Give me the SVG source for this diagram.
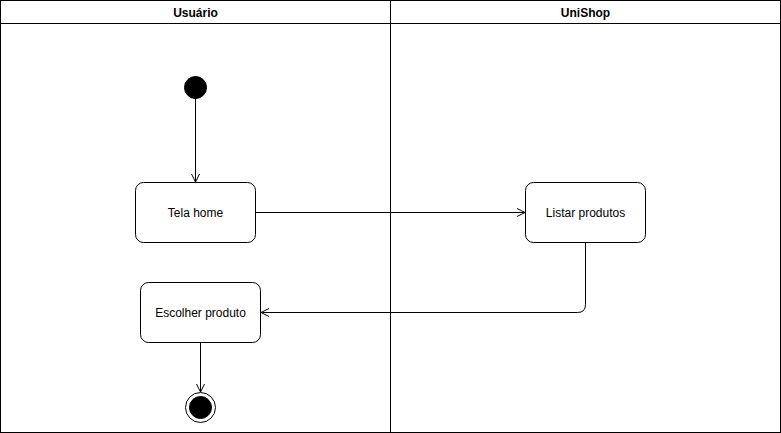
<svg xmlns="http://www.w3.org/2000/svg" width="781" height="433" viewBox="0 0 781 433">
<style>
.lane{fill:#fff;stroke:#000;stroke-width:1}
.node{fill:#fff;stroke:#000;stroke-width:1}
.hdr{font-family:"Liberation Sans",Arial,sans-serif;font-size:12px;font-weight:bold;fill:#000;text-anchor:middle}
.lbl{font-family:"Liberation Sans",Arial,sans-serif;font-size:12px;fill:#000;text-anchor:middle}
.edge{fill:none;stroke:#000;stroke-width:1}
</style>
<defs>
<marker id="open" viewBox="0 0 10 10" refX="9" refY="5" markerWidth="10" markerHeight="10" markerUnits="userSpaceOnUse" orient="auto">
<path d="M1,1 L9,5 L1,9" fill="none" stroke="#000" stroke-width="1"/>
</marker>
</defs>
<rect width="781" height="433" fill="#fff"/>
<g id="lane-usuario">
<rect class="lane" x="0.5" y="0.5" width="390" height="432"/>
<line x1="0.5" y1="23.5" x2="390.5" y2="23.5" stroke="#000"/>
<text class="hdr" x="195.5" y="16.5">Usuário</text>
</g>
<g id="lane-unishop">
<rect class="lane" x="390.5" y="0.5" width="390" height="432"/>
<line x1="390.5" y1="23.5" x2="780.5" y2="23.5" stroke="#000"/>
<text class="hdr" x="585.5" y="16.5">UniShop</text>
</g>
<g id="edges">
<path class="edge" d="M195.5,98 L195.5,182" marker-end="url(#open)"/>
<path class="edge" d="M255.5,212.5 L525,212.5" marker-end="url(#open)"/>
<path class="edge" d="M585.5,242.5 L585.5,304.5 Q585.5,312.5 577.5,312.5 L261,312.5" marker-end="url(#open)"/>
<path class="edge" d="M200.5,342.5 L200.5,392" marker-end="url(#open)"/>
</g>
<g id="start">
<circle cx="195.5" cy="87.5" r="11" fill="#000" stroke="#000"/>
</g>
<g id="tela-home">
<rect class="node" x="135.5" y="182.5" width="120" height="60" rx="8"/>
<text class="lbl" x="195.5" y="216.5">Tela home</text>
</g>
<g id="listar-produtos">
<rect class="node" x="525.5" y="182.5" width="120" height="60" rx="8"/>
<text class="lbl" x="585.5" y="216.5">Listar produtos</text>
</g>
<g id="escolher-produto">
<rect class="node" x="140.5" y="282.5" width="120" height="60" rx="8"/>
<text class="lbl" x="200.5" y="316.5">Escolher produto</text>
</g>
<g id="end">
<circle cx="200.5" cy="407.5" r="15" fill="#fff" stroke="#000"/>
<circle cx="200.5" cy="407.5" r="11" fill="#000" stroke="#000"/>
</g>
</svg>
